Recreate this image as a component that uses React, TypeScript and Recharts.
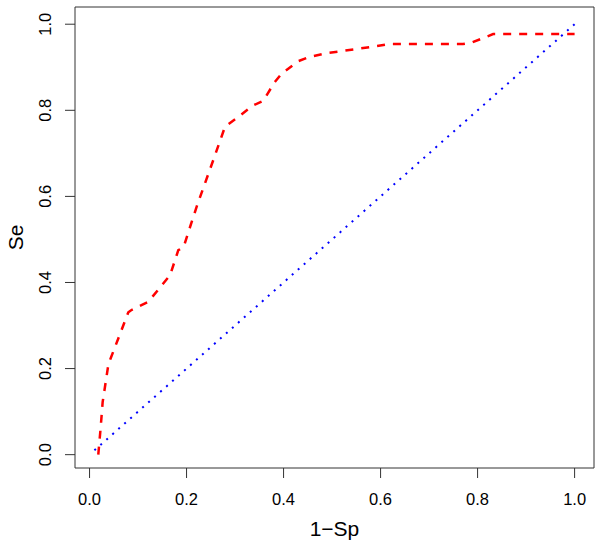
import { LineChart, Line, XAxis, YAxis, ReferenceArea, Label } from 'recharts'

// ROC curve (1-Sp vs Se)
const rocFpr = [
  0.018, 0.023, 0.027, 0.039, 0.044, 0.08, 0.085, 0.121, 0.166, 0.183, 0.194, 0.204, 0.222, 0.255, 0.279, 0.283,
  0.307, 0.335, 0.358, 0.382, 0.396, 0.43, 0.451, 0.489, 0.523, 0.592, 0.619, 0.77, 0.787, 0.832, 1.0,
]
const rocSe = [
  0.0, 0.064, 0.122, 0.211, 0.225, 0.331, 0.335, 0.355, 0.417, 0.475, 0.482, 0.518, 0.58, 0.684, 0.761, 0.765,
  0.785, 0.81, 0.822, 0.866, 0.885, 0.914, 0.923, 0.933, 0.938, 0.949, 0.954, 0.954, 0.957, 0.977, 0.977,
]

// chance diagonal
const diagX = [0.01, 1.0]
const diagY = [0.01, 1.0]

const ticks = [0, 0.2, 0.4, 0.6, 0.8, 1.0]
const xDomain: [number, number] = [-0.03, 1.04]
const yDomain: [number, number] = [-0.031, 1.04]

const rocData = rocFpr.map((x, i) => ({ x, y: rocSe[i] }))
const diagData = diagX.map((x, i) => ({ x, y: diagY[i] }))

const FONT = '"Liberation Sans", Arial, Helvetica, sans-serif'

function XTick(props: any) {
  const { x, payload } = props
  return (
    <text x={x} y={504.5} textAnchor="middle" fontSize={16.5} fontFamily={FONT} fill="#000">
      {Number(payload.value).toFixed(1)}
    </text>
  )
}

function YTick(props: any) {
  const { y, payload } = props
  const bx = 51
  return (
    <text
      x={bx}
      y={y}
      transform={`rotate(-90 ${bx} ${y})`}
      textAnchor="middle"
      fontSize={16.5}
      fontFamily={FONT}
      fill="#000"
    >
      {Number(payload.value).toFixed(1)}
    </text>
  )
}

function YTitle(props: any) {
  const vb = props.viewBox || {}
  const cy = (vb.y ?? 7) + (vb.height ?? 461) / 2
  return (
    <text x={23} y={cy} transform={`rotate(-90 23 ${cy})`} textAnchor="middle" fontSize={21} fontFamily={FONT} fill="#000">
      Se
    </text>
  )
}

export default function App() {
  return (
    <div style={{ position: 'absolute', left: 0, top: 0, width: 602, height: 544, background: '#fff' }}>
      <LineChart width={602} height={544} margin={{ top: 7, right: 8, bottom: 0, left: 0 }}>
        <XAxis
          type="number"
          dataKey="x"
          domain={xDomain}
          ticks={ticks}
          allowDataOverflow
          height={76}
          tickSize={10}
          axisLine={false}
          tickLine={{ stroke: '#333' }}
          tick={<XTick />}
          interval={0}
        >
          <Label
            value="1−Sp"
            position="insideBottom"
            offset={8}
            style={{ fontSize: 21, fontFamily: FONT, fill: '#000' }}
          />
        </XAxis>
        <YAxis
          type="number"
          dataKey="y"
          domain={yDomain}
          ticks={ticks}
          allowDataOverflow
          width={75}
          tickSize={10}
          axisLine={false}
          tickLine={{ stroke: '#333' }}
          tick={<YTick />}
          interval={0}
        >
          <Label content={<YTitle />} />
        </YAxis>
        <ReferenceArea
          x1={xDomain[0]}
          x2={xDomain[1]}
          y1={yDomain[0]}
          y2={yDomain[1]}
          fill="none"
          stroke="#333"
          strokeWidth={1}
          ifOverflow="visible"
        />
        <Line
          data={diagData}
          dataKey="y"
          type="linear"
          stroke="#0000ff"
          strokeWidth={2}
          strokeDasharray="2 6"
          dot={false}
          activeDot={false}
          isAnimationActive={false}
        />
        <Line
          data={rocData}
          dataKey="y"
          type="linear"
          stroke="#ff0000"
          strokeWidth={2.5}
          strokeDasharray="8 8"
          dot={false}
          activeDot={false}
          isAnimationActive={false}
        />
      </LineChart>
    </div>
  )
}
